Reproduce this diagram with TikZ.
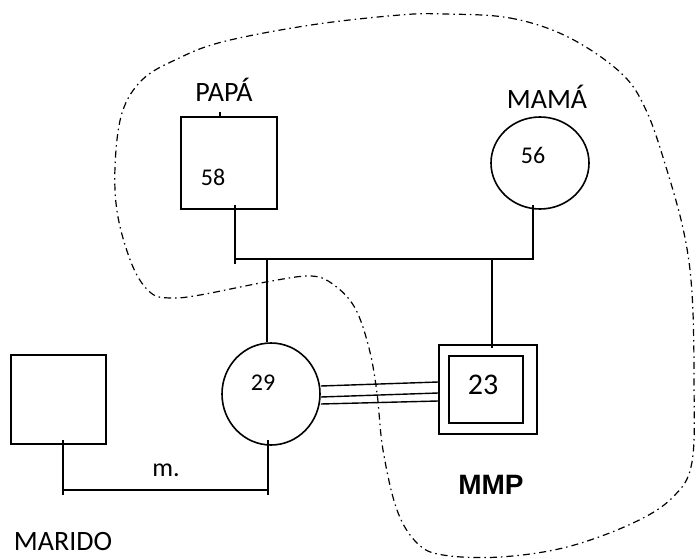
\documentclass[tikz,border=0pt]{standalone}
\usepackage{fontspec}
\setmainfont{Carlito}
\newfontfamily\mmpfont{Liberation Sans}
\usetikzlibrary{positioning, calc, shapes.geometric}

\tikzset{
  person/.style={draw, line width=1.6pt, inner sep=0pt},
  male/.style={person, rectangle},
  female/.style={person, ellipse},
  age/.style={font=\fontsize{24}{24}\selectfont, inner sep=0pt},
  who/.style={font=\fontsize{28}{28}\selectfont, inner sep=0pt},
  tie/.style={line width=1.4pt},
  zone/.style={line width=1.2pt, dash pattern=on 7pt off 4pt on 1.5pt off 4pt}
}

\begin{document}
\begin{tikzpicture}[x=1pt, y=-1pt]
        \useasboundingbox (0,0) rectangle (696,559);

        % -- boundary of the household ------------------------------------
        \draw[zone] plot[smooth cycle, tension=0.6] coordinates {
          (444,14) (510,18) (568,37) (621,73) (646,110) (666,167)
          (684,233) (692,293) (694,380) (692,462) (673,497) (633,523)
          (567,547) (500,557) (443,555) (417,543) (397,510) (383,450)
          (377,393) (369,348) (355,308) (334,285) (311,276) (266,282)
          (200,295) (171,298) (151,293) (133,267) (118,217) (115,167)
          (122,113) (142,80) (175,60) (222,42) (311,25) (400,15)};

        % -- parents ------------------------------------------------------
        \node[male, minimum width=96pt, minimum height=92pt] (papa) at (229,163) {};
        \node[who] (papaLbl) at (224,90) {PAPÁ};
        \node[age] (papaAge) at (213,177) {58};
        \draw[tie] (220,112) -- (papa.north -| 220,0);

        \node[female, minimum width=98pt, minimum height=92pt] (mama) at (540,163) {};
        \node[who] (mamaLbl) at (547,97) {MAMÁ};
        \node[age] (mamaAge) at (533,155) {56};

        % -- marriage line and children ------------------------------------
        \coordinate (wedL) at (235,259);
        \coordinate (wedR) at (533,259);
        \coordinate (kidA) at (267,259);
        \coordinate (kidB) at (492,259);
        \draw[tie] ([yshift=5pt]papa.south -| wedL) -- ([yshift=-5pt]wedL);
        \draw[tie] (wedL) -- (wedR) -- ([yshift=5pt]mama.south -| wedR);

        \node[female, minimum width=98pt, minimum height=102pt] (hija) at (271,394) {};
        \node[age] (hijaAge) at (263,383) {29};

        \node[male, minimum width=98pt, minimum height=89pt] (mmp) at (488,389.5) {};
        \node[male, minimum width=74pt, minimum height=67pt] (mmpIn) at (486,389.5) {};
        \node[age, font=\fontsize{30}{30}\selectfont] (mmpAge) at (483,385) {23};
        \node[font=\mmpfont\bfseries\fontsize{28}{28}\selectfont, inner sep=0pt] (mmpLbl) at (491,485) {MMP};

        \draw[tie] (kidA) -- (kidA |- hija.north);
        \draw[tie] (kidB) -- ([yshift=-4pt]kidB |- mmp.north);

        % -- fused relation ----------------------------------------------
        \draw[tie] ([yshift=8pt]hija.east) -- ([yshift=7.5pt]mmp.west);
        \draw[tie] ([yshift=-3pt]hija.east) -- ([yshift=-3.5pt]mmp.west);
        \draw[tie] ([yshift=-10pt]hija.east) -- ([yshift=-11.5pt]mmp.west);

        % -- husband ------------------------------------------------------
        \node[male, minimum width=95pt, minimum height=89pt] (marido) at (58.5,399.5) {};
        \node[who] (maridoLbl) at (63,542) {MARIDO};
        \coordinate (mL) at (63,490);
        \coordinate (mR) at (268,490);
        \draw[tie] ([yshift=5pt]marido.south -| mL) -- ([yshift=-5pt]mL);
        \draw[tie] (mL) -- (mR);
        \draw[tie] ([yshift=-5pt]mR) -- ([yshift=6pt]hija.south -| mR);
        \node[who, font=\fontsize{26}{26}\selectfont] (mLbl) at (166,470) {m.};
      \end{tikzpicture}
\end{document}
